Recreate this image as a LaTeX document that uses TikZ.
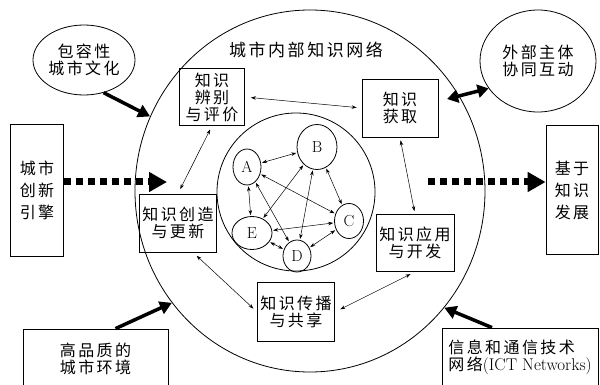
\documentclass[tikz,border=0pt]{standalone}
\usepackage{fontspec}
\newfontfamily\cjk[LetterSpace=15]{Noto Sans CJK SC}
\usetikzlibrary{arrows.meta}
\usetikzlibrary{shapes.geometric}

\tikzset{
  box/.style={draw, line width=0.8pt, align=center, inner sep=1pt, font=\cjk\fontsize{16}{17}\selectfont},
  blob/.style={draw, line width=0.8pt, ellipse, inner sep=0pt, align=center, font=\cjk\fontsize{16}{17}\selectfont},
  agent/.style={draw, line width=0.8pt, ellipse, inner sep=0pt, font=\fontsize{16}{17}\selectfont},
  link/.style={{Stealth[length=5pt,width=3.5pt]}-{Stealth[length=5pt,width=3.5pt]}, line width=0.5pt},
  push/.style={line width=3.5pt, -{Triangle[length=12pt,width=13pt]}},
  pushboth/.style={line width=3.5pt, {Triangle[length=11pt,width=13pt]}-{Triangle[length=11pt,width=13pt]}},
  flow/.style={line width=7pt, dash pattern=on 7pt off 5pt, -{Triangle[length=18pt,width=19pt]}},
}

\begin{document}
\begin{tikzpicture}[x=1pt, y=-1pt]
    \useasboundingbox (0,0) rectangle (600,385);

    % outer network and core
    \node[draw, line width=0.8pt, ellipse, inner sep=0pt, minimum width=350pt, minimum height=362pt] (net) at (310,191) {};
    \node[font=\cjk\fontsize{17}{17}\selectfont] (title) at (306,50) {城市内部知识网络};
    \node[draw, line width=0.8pt, circle, inner sep=0pt, minimum size=158pt] (core) at (296,192) {};

    % knowledge process boxes
    \node[box, minimum width=65pt, minimum height=57pt] (ident) at (212,97) {知识\\辨别\\与评价};
    \node[box, minimum width=76pt, minimum height=58pt] (acquire) at (400,108) {知识\\获取};
    \node[box, minimum width=77pt, minimum height=58pt] (create) at (178,223) {知识创造\\与更新};
    \node[box, minimum width=78pt, minimum height=57pt] (apply) at (415,243) {知识应用\\与开发};
    \node[box, minimum width=77pt, minimum height=59pt] (share) at (296,312) {知识传播\\与共享};

    % agents inside the core
    \node[agent, minimum width=28pt, minimum height=36pt] (A) at (247,167) {A};
    \node[agent, minimum width=40pt, minimum height=45pt] (B) at (317,147) {B};
    \node[agent, minimum width=29pt, minimum height=35pt] (C) at (349,221) {C};
    \node[agent, minimum width=28pt, minimum height=32pt] (D) at (297,256) {D};
    \node[agent, minimum width=40pt, minimum height=33pt] (E) at (252,233) {E};
    \foreach \a/\b in {A/B, A/C, A/D, A/E, B/C, B/D, B/E, C/D, C/E, D/E}
        \draw[link, shorten <=1pt, shorten >=1pt] (\a) -- (\b);

    % surroundings
    \node[blob, minimum width=102pt, minimum height=70pt] (culture) at (84,60) {包容性\\城市文化};
    \node[blob, minimum width=116pt, minimum height=102pt] (partner) at (538,61) {外部主体\\协同互动};
    \node[box, minimum width=53pt, minimum height=132pt, font=\cjk\fontsize{16}{22}\selectfont] (engine) at (37,190) {城市\\创新\\引擎};
    \node[box, minimum width=52pt, minimum height=129pt, font=\cjk\fontsize{16}{22}\selectfont] (growth) at (572,190) {基于\\知识\\发展};
    \node[box, minimum width=145pt, minimum height=60pt] (env) at (95.5,359) {高品质的\\城市环境};
    \node[box, minimum width=156pt, minimum height=58pt, align=left] (ict) at (520,357) {信息和通信技术\\网络{\rmfamily\fontsize{17}{17}\selectfont (ICT Networks)}};

    \coordinate (engtip) at (167,182);
    \coordinate (grtail) at (428,182);

    % links between the processes
    \draw[link, shorten <=6pt, shorten >=5pt] (ident.east) -- (acquire.west);
    \draw[link, shorten <=4pt, shorten >=5pt] (ident.south) -- (create.north);
    \draw[link, shorten <=3pt, shorten >=3pt] (acquire.south) -- (apply.north);
    \draw[link, shorten <=5pt, shorten >=6pt] (apply.south) -- (share.east);
    \draw[link, shorten <=5pt, shorten >=5pt] ([xshift=15pt]create.south) -- (share.west);

    % outside influences
    \draw[push] (culture.301) -- (net.155);
    \draw[push] ([xshift=20pt]env.north) -- (net.219);
    \draw[push] ([xshift=-28pt]ict.north) -- (net.319);
    \draw[pushboth, shorten <=9pt] (acquire.10) -- (partner.209);
    \draw[flow] ([yshift=8pt]engine.east) -- (engtip);
    \draw[flow] (grtail) -- ([yshift=8pt]growth.west);
\end{tikzpicture}
\end{document}
